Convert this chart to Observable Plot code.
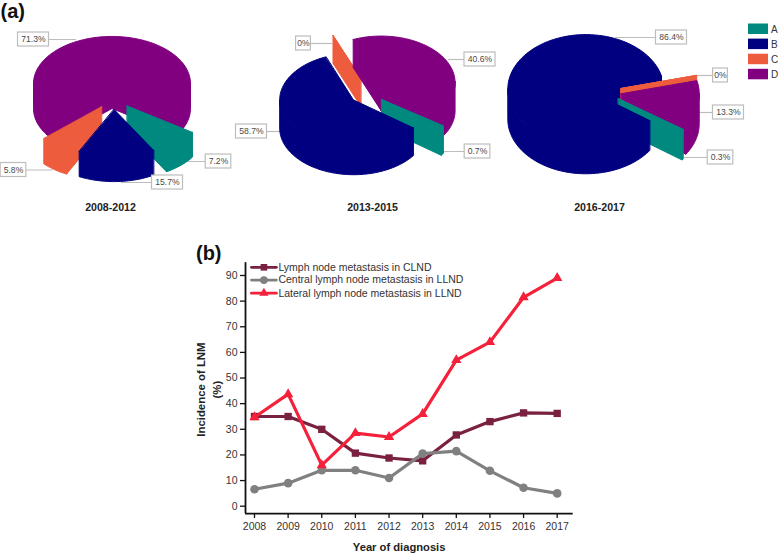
<!DOCTYPE html>
<html>
<head>
<meta charset="utf-8">
<script src="https://cdn.jsdelivr.net/npm/d3@7"></script>
<script src="https://cdn.jsdelivr.net/npm/@observablehq/plot@0.6"></script>
<style>
  html, body { margin: 0; padding: 0; background: #fff; }
  #page { position: relative; width: 778px; height: 553px; overflow: hidden; font-family: "Liberation Sans", Arial, sans-serif; }
  #page > svg, #page > div { position: absolute; left: 0; }
  svg { font-family: "Liberation Sans", Arial, sans-serif; }
</style>
</head>
<body>
<div id="page"></div>
<script>
// ---------- data ----------
const sliceNames = ["A", "B", "C", "D"];
const sliceColors = ["#00897f", "#000080", "#ee5c3e", "#800080"];
const periods = ["2008-2012", "2013-2015", "2016-2017"];
const shares2008 = [7.2, 15.7, 5.8, 71.3];
const shares2013 = [0.7, 58.7, 0, 40.6];
const shares2016 = [0.3, 86.4, 0, 13.3];

const years = [2008, 2009, 2010, 2011, 2012, 2013, 2014, 2015, 2016, 2017];
const clnd = [35, 35, 30, 20.7, 18.8, 17.7, 27.8, 33, 36.4, 36.2];
const central = [6.6, 9, 14, 14, 11, 20.5, 21.5, 13.8, 7.2, 5];
const lateral = [34.7, 43.7, 16, 28.5, 27, 36, 57, 64, 81.5, 89];
const seriesNames = ["Lymph node metastasis in CLND", "Central lymph node metastasis in LLND", "Lateral lymph node metastasis in LLND"];
const seriesColors = ["#7a2141", "#808080", "#f5203a"];

// ---------- pie layout ----------
const startAngle = 124;
const pies = [
  {values: shares2008, cx: 113, cy: 96, rx: 78.5, k: 0.6, ke: 0.65, explode: 20, depth: 25, order: ["D","C","A","B"], titleX: 110,
   labels: {D:[-80,-57,-37], C:[-100,73.5,-60], B:[54,86,8], A:[105,65,71]}},
  {values: shares2013, cx: 367, cy: 91, rx: 74, k: 0.63, ke: 0.8, explode: 17.5, depth: 28, order: ["C","D","A","B"], titleX: 372,
   labels: {C:[-64,-48,-35], D:[112.5,-32,81], B:[-116,40,-85], A:[110,60,77]}},
  {values: shares2016, cx: 603, cy: 91, rx: 78, k: 0.7, ke: 0.7, explode: 18, depth: 30, order: ["C","D","A","B"], titleX: 599,
   labels: {B:[68,-54,12], C:[117,-16,91], D:[125,21,94], A:[117,66,80]}}
];

const rad = d => d * Math.PI / 180;

function slicePieces(pie, p) {
  const rows = [];
  const geom = {};
  let a = startAngle;
  pie.values.forEach((v, i) => {
    const a1 = a + v * 3.6;
    geom[sliceNames[i]] = [a, a1];
    a = a1;
  });
  const shape = name => {
    const [a0, a1] = geom[name];
    const m = rad((a0 + a1) / 2);
    const ox = pie.cx + pie.explode * Math.sin(m);
    const oy = pie.cy - pie.explode * pie.ke * Math.cos(m);
    const n = Math.max(1, Math.ceil((a1 - a0) / 2));
    const angles = d3.range(n + 1).map(j => a0 + (a1 - a0) * j / n);
    const rim = angles.map(t => [ox + pie.rx * Math.sin(rad(t)), oy - pie.rx * pie.k * Math.cos(rad(t))]);
    return {a0, a1, ox, oy, angles, rim};
  };
  const add = (pts, name, key) => pts.forEach(([x, y]) => rows.push({x, y, slice: name, piece: `${p}-${name}-${key}`}));
  const band = (line, name, key) => add([...line, ...line.slice().reverse().map(([x, y]) => [x, y + pie.depth])], name, key);
  const radial = (s, name) => {
    // a radial cut face shows only when it turns towards the viewer
    if (Math.sin(rad(s.a0)) < 0) band([[s.ox, s.oy], s.rim[0]], name, "r0");
    if (Math.sin(rad(s.a1)) > 0) band([[s.ox, s.oy], s.rim[s.rim.length - 1]], name, "r1");
  };
  // the cut face of B sits behind the slices in its notch
  radial(shape("B"), "B");
  for (const name of pie.order) {
    const s = shape(name);
    if (name !== "B") radial(s, name);
    // outer wall: one band per run of forward-facing rim
    let run = [], runs = 0;
    const flush = () => { if (run.length > 1) band(run, name, `w${runs++}`); run = []; };
    s.rim.forEach((pt, j) => {
      if (Math.cos(rad(s.angles[j])) < 0.03) run.push(pt); else flush();
    });
    flush();
    add([[s.ox, s.oy], ...s.rim], name, "top");
  }
  return rows;
}

const pieRows = pies.flatMap(slicePieces);
const labelRows = pies.flatMap(pie => sliceNames.map((name, i) => {
  const [dx, dy, tip] = pie.labels[name];
  const text = `${pie.values[i]}%`;
  const w = 5.4 * text.length + 4;
  return {text, x: pie.cx + dx, y: pie.cy + dy, tip: pie.cx + tip, w};
}));
const titleRows = pies.map((pie, i) => ({text: periods[i], x: pie.titleX}));

const topPlot = Plot.plot({
  width: 778, height: 232,
  margin: 0,
  x: {domain: [0, 778], range: [0, 778], axis: null},
  y: {domain: [232, 0], range: [232, 0], axis: null},
  color: {domain: sliceNames, range: sliceColors},
  marks: [
    Plot.ruleY(labelRows, {x1: "x", x2: "tip", y: "y", stroke: "#bdbdbd", strokeWidth: 1.2}),
    Plot.line(pieRows, {x: "x", y: "y", z: "piece", fill: "slice", stroke: "slice", strokeWidth: 1, curve: "linear-closed"}),
    Plot.rect(labelRows, {x1: d => d.x - d.w / 2, x2: d => d.x + d.w / 2, y1: d => d.y - 7, y2: d => d.y + 7, fill: "#fff", stroke: "#bdbdbd", strokeWidth: 1.2}),
    Plot.text(labelRows, {x: "x", y: "y", text: "text", fontSize: 8.6, fill: "#4a4a4a"}),
    Plot.text(titleRows, {x: "x", y: 207, text: "text", fontSize: 10.6, fontWeight: "bold", fill: "#222"}),
    Plot.rect(sliceNames, {x1: 748, x2: 768, y1: (d, i) => 23.5 + 15.1 * i, y2: (d, i) => 34 + 15.1 * i, fill: d => d}),
    Plot.text(sliceNames, {x: 770.5, y: (d, i) => 29 + 15.1 * i, text: d => d, fontSize: 10, textAnchor: "start", fill: "#333"}),
    Plot.text(["(a)"], {x: 0, y: 11, text: d => d, fontSize: 20, fontWeight: "bold", textAnchor: "start", fill: "#111"})
  ]
});
topPlot.style.top = "0";

// ---------- line chart ----------
const rowsFor = (vals, name) => vals.map((v, i) => ({year: years[i], v, name}));
const series = [clnd, central, lateral].map((vals, i) => rowsFor(vals, seriesNames[i]));
const symbols = ["square", "circle", "triangle"];
const symbolSizes = [54, 58, 46];
const legendYears = [2007.91, 2008.65], legendTextYear = 2008.71;
const legendLevels = [93.2, 88.2, 83.1];

const panelTop = 232;
const linePlot = Plot.plot({
  width: 778, height: 321,
  marginLeft: 245, marginRight: 205, marginTop: 30, marginBottom: 40,
  x: {domain: [2008, 2017], range: [254, 556.7], axis: null},
  y: {domain: [0, 90], range: [505.7 - panelTop, 275 - panelTop], axis: null},
  marks: [
    Plot.axisY({ticks: d3.range(0, 100, 10), tickSize: 5, tickPadding: 3, fontSize: 10.5, label: null, stroke: "#111", strokeWidth: 1.3, color: "#333", anchor: "left"}),
    Plot.axisX({ticks: years, tickFormat: "d", tickSize: 5, tickPadding: 4, fontSize: 10.5, label: null, stroke: "#111", strokeWidth: 1.3, color: "#333", anchor: "bottom"}),
    Plot.ruleX([0], {x: () => 2008 - 9 / 33.63, y1: -2.9, y2: 95, stroke: "#111", strokeWidth: 1.8}),
    Plot.ruleY([0], {x1: 2008 - 9 / 33.63, x2: 2017 + 16 / 33.63, y: -2.9, stroke: "#111", strokeWidth: 1.8}),
    ...series.flatMap((rows, i) => [
      Plot.line(rows, {x: "year", y: "v", stroke: seriesColors[i], strokeWidth: 3.2}),
      Plot.dot(rows, {x: "year", y: "v", symbol: () => symbols[i], r: Math.sqrt(symbolSizes[i] / Math.PI), fill: seriesColors[i], stroke: "none"})
    ]),
    ...seriesNames.flatMap((name, i) => [
      Plot.line(legendYears.map(x => ({x, y: legendLevels[i]})), {x: "x", y: "y", stroke: seriesColors[i], strokeWidth: 2.8}),
      Plot.dot([{x: d3.mean(legendYears), y: legendLevels[i]}], {x: "x", y: "y", symbol: () => symbols[i], r: 0.9 * Math.sqrt(symbolSizes[i] / Math.PI), fill: seriesColors[i], stroke: "none"}),
      Plot.text([name], {x: legendTextYear, y: legendLevels[i], text: d => d, textAnchor: "start", fontSize: 10.5, fill: "#333"})
    ]),
    Plot.text(["Year of diagnosis"], {x: 2012.3, y: -16.1, text: d => d, fontSize: 11.2, fontWeight: "bold", fill: "#222"}),
    Plot.text(["Incidence of LNM"], {x: 2006.42, y: 45.5, text: d => d, rotate: -90, fontSize: 11.4, fontWeight: "bold", fill: "#222"}),
    Plot.text(["(%)"], {x: 2006.9, y: 45.5, text: d => d, rotate: -90, fontSize: 11.4, fontWeight: "bold", fill: "#222"}),
    Plot.text(["(b)"], {x: 2006.26, y: 98.4, text: d => d, fontSize: 20, fontWeight: "bold", textAnchor: "start", fill: "#111"})
  ]
});
linePlot.style.top = panelTop + "px";

const page = document.getElementById("page");
page.append(topPlot, linePlot);
</script>
</body>
</html>
